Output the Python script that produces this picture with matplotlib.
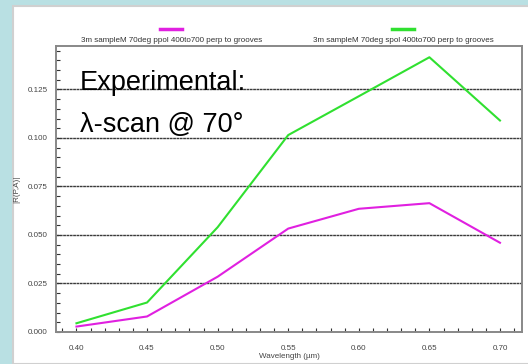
import matplotlib.pyplot as plt
from matplotlib.patches import Rectangle
from matplotlib.ticker import MultipleLocator

# data
wavelength = [0.40, 0.45, 0.50, 0.55, 0.60, 0.65, 0.70]
ppol = [0.0028, 0.0080, 0.0285, 0.0533, 0.0635, 0.0664, 0.0460]
spol = [0.0045, 0.0152, 0.0540, 0.1015, 0.1215, 0.1416, 0.1090]
ppol_label = "3m sampleM 70deg ppol 400to700 perp to grooves"
spol_label = "3m sampleM 70deg spol 400to700 perp to grooves"
x_ticks = [0.40, 0.45, 0.50, 0.55, 0.60, 0.65, 0.70]
y_ticks = [0.000, 0.025, 0.050, 0.075, 0.100, 0.125]

W, H = 528, 364
fig = plt.figure(figsize=(W / 100, H / 100), dpi=100)
fig.patch.set_facecolor('#b9e0e3')
plt.rcParams['font.family'] = ['Liberation Sans', 'DejaVu Sans']

# white slide panel
fig.patches.append(Rectangle((13 / W, 0), 1, (H - 6) / H, transform=fig.transFigure,
                             facecolor='white', edgecolor='#d0d0d0', lw=1.5, zorder=-5))

ax = fig.add_axes([56 / W, 32 / H, 466 / W, 286 / H])
ax.set_facecolor('white')

ax.plot(wavelength, ppol, color='#e020e0', lw=1.5, zorder=3)
ax.plot(wavelength, spol, color='#30e030', lw=1.5, zorder=3)

ax.set_xlim(0.3855, 0.7156)
ax.set_ylim(0, 0.1474)
ax.set_xticks(x_ticks)
ax.set_xticklabels([f"{v:.2f}" for v in x_ticks])
ax.set_yticks(y_ticks)
ax.set_yticklabels([f"{v:.3f}" for v in y_ticks])
ax.xaxis.set_minor_locator(MultipleLocator(0.01))
ax.yaxis.set_minor_locator(MultipleLocator(0.005))
ax.tick_params(axis='both', which='major', labelsize=5.8, labelcolor='#444444',
               direction='in', length=3, color='#333333', width=0.8)
ax.tick_params(axis='both', which='minor', direction='in', length=3,
               color='#333333', width=0.8)
ax.tick_params(axis='x', pad=9)
ax.tick_params(axis='y', pad=6)

for y in y_ticks[1:]:
    ax.axhline(y, color='#3a3a3a', lw=1.0, ls=(0, (2, 0.4)), zorder=1)

for s in ax.spines.values():
    s.set_color('#888888')
    s.set_linewidth(1.4)

ax.set_xlabel("Wavelength (\u00b5m)", fontsize=5.8, color='#444444', labelpad=1)
ax.set_ylabel("|R(P,A)|", fontsize=5.8, color='#444444', labelpad=5)

# legend above the plot
fig.lines.append(plt.Line2D([160 / W, 182 / W], [1 - 29 / H] * 2, color='#e020e0', lw=2.5,
                            transform=fig.transFigure))
fig.lines.append(plt.Line2D([392 / W, 414 / W], [1 - 29 / H] * 2, color='#30e030', lw=2.5,
                            transform=fig.transFigure))
fig.text(172 / W, 1 - 40 / H, ppol_label, fontsize=5.75, color='#333333', ha='center', va='center')
fig.text(403 / W, 1 - 40 / H, spol_label, fontsize=5.75, color='#333333', ha='center', va='center')

# annotation
fig.text(80 / W, 1 - 90 / H, "Experimental:", fontsize=19.5, color='black',
         ha='left', va='baseline')
fig.text(80 / W, 1 - 132 / H, "\u03bb-scan @ 70\u00b0", fontsize=19.5, color='black',
         ha='left', va='baseline')

fig.savefig("out.png", dpi=100, facecolor=fig.get_facecolor())
